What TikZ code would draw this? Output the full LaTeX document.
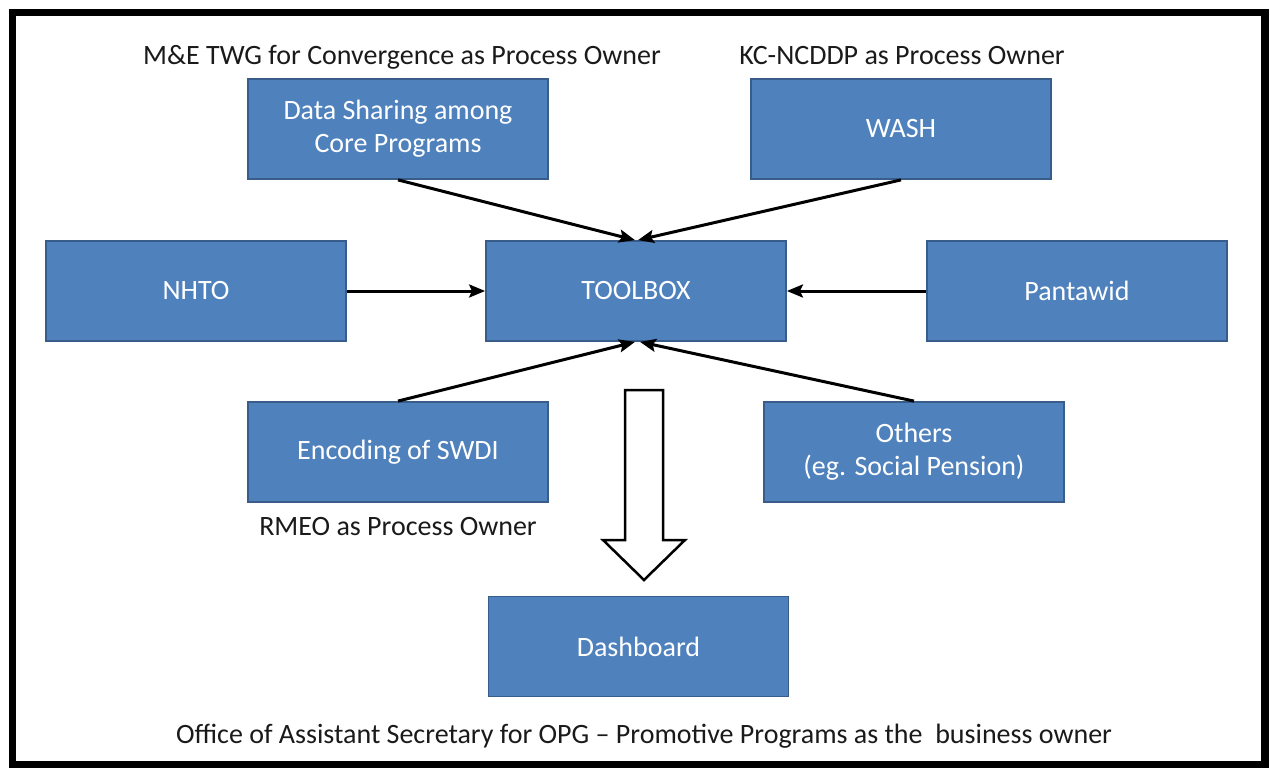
\documentclass[tikz,border=0pt]{standalone}
\usepackage{fontspec}
\setmainfont{Carlito}
\usetikzlibrary{arrows.meta}
\definecolor{boxfill}{HTML}{4F81BD}
\definecolor{boxline}{HTML}{385D8A}
\definecolor{labtext}{HTML}{1A1A1A}
\tikzset{
  bluebox/.style={draw=boxline, line width=1.8pt, fill=boxfill, text=white,
    minimum width=300pt, minimum height=100pt, inner sep=0pt, align=center,
    font=\fontsize{28}{33}\selectfont},
  ownerlabel/.style={text=labtext, inner sep=0pt, font=\fontsize{28}{33}\selectfont},
  flow/.style={line width=3pt, -{Stealth[length=16pt,width=13pt,inset=3pt]}},
  blockarrow/.style={draw=black, line width=2.5pt, fill=white, line join=miter}
}
\begin{document}
\begin{tikzpicture}[x=1pt,y=-1pt]
\useasboundingbox (0,0) rectangle (1270,768);
\fill[white] (0,0) rectangle (1270,768);
\draw[line width=7.5pt] (12.5,12.5) rectangle (1265,765);

\node[bluebox] (ds) at (398,129) {Data Sharing among\\Core Programs};
\node[bluebox] (wash) at (901,129) {WASH};
\node[bluebox] (nhto) at (196,291) {NHTO};
\node[bluebox] (tb) at (636,291) {TOOLBOX};
\node[bluebox] (pw) at (1077,291) {Pantawid};
\node[bluebox] (enc) at (398,452) {Encoding of SWDI};
\node[bluebox] (oth) at (914,452) {Others\\(eg. Social Pension)};
\node[bluebox] (dash) at (638.5,646.5) {Dashboard};

\node[ownerlabel] (l1) at (402,57) {M\&E TWG for Convergence as Process Owner};
\node[ownerlabel] (l2) at (902,56) {KC-NCDDP as Process Owner};
\node[ownerlabel] (l3) at (398,527) {RMEO as Process Owner};
\node[ownerlabel] (l4) at (644,736) {Office of Assistant Secretary for OPG -- Promotive Programs as the\ \ business owner};

\draw[flow] (ds.south) -- ([xshift=-1pt]tb.north);
\draw[flow] (wash.south) -- ([xshift=2pt]tb.north);
\draw[flow] (nhto.east) -- (tb.west);
\draw[flow] (pw.west) -- (tb.east);
\draw[flow] (enc.north) -- ([xshift=-1pt]tb.south);
\draw[flow] (oth.north) -- ([xshift=4pt]tb.south);

\coordinate (bt) at (644,390);
\draw[blockarrow] ([xshift=-19pt]bt) -- ([xshift=19pt]bt) -- ++(0,150) -- ++(22,0)
  -- (644,580) -- (603,540) -- ++(22,0) -- cycle;
\end{tikzpicture}
\end{document}
